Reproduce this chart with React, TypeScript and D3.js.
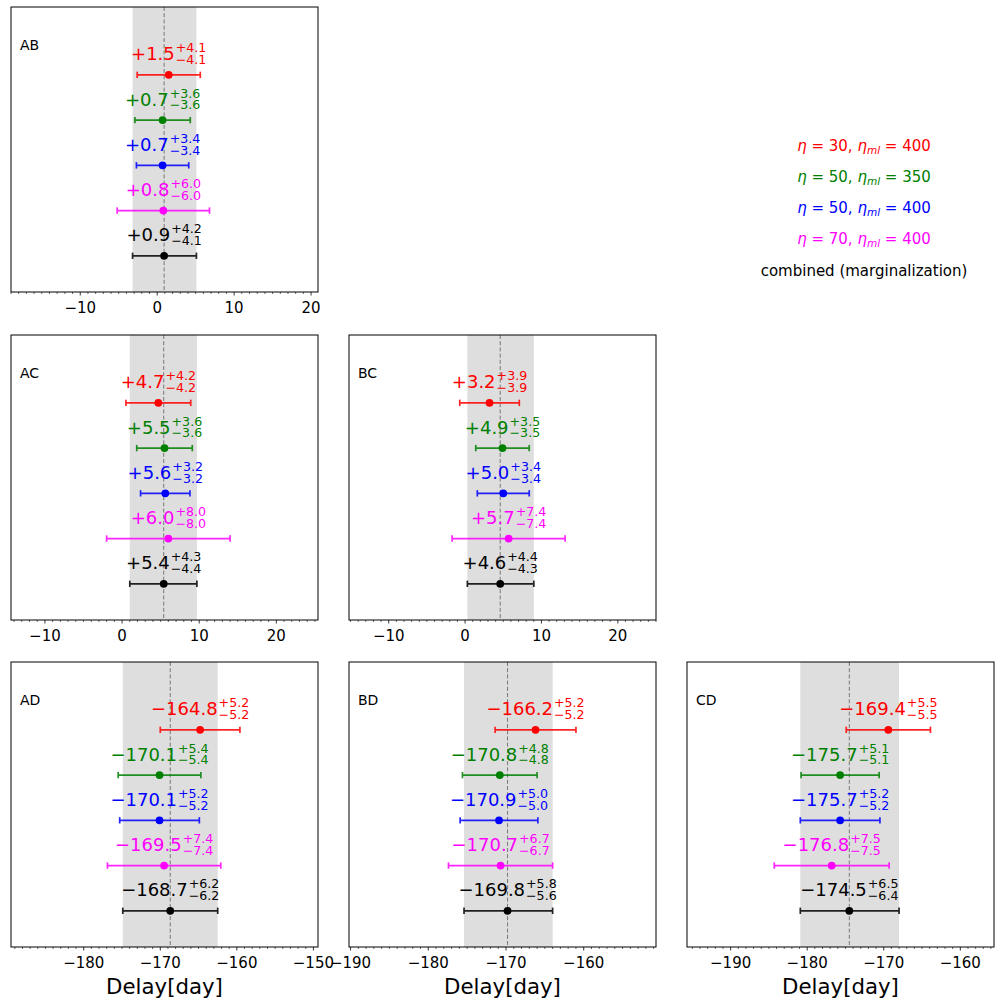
import React, { useEffect, useRef } from 'react'
import * as d3 from 'd3'

// panels in the lower triangle of the grid
const panelNames = ['AB', 'AC', 'BC', 'AD', 'BD', 'CD']
const panelRow = [0, 1, 1, 2, 2, 2]
const panelCol = [0, 0, 1, 0, 1, 2]
const xLimits: [number, number][] = [
  [-19.0, 20.9],
  [-14.4, 25.4],
  [-15.2, 25.0],
  [-189.5, -149.4],
  [-190.2, -150.7],
  [-195.7, -155.6],
]
const xTicks = [
  [-10, 0, 10, 20],
  [-10, 0, 10, 20],
  [-10, 0, 10, 20],
  [-180, -170, -160, -150],
  [-190, -180, -170, -160],
  [-190, -180, -170, -160],
]

// runs: red, green, blue, magenta, combined
const runColors = ['#ff0000', '#008000', '#0000ff', '#ff00ff', '#000000']
const runEta = ['30', '50', '50', '70']
const runEtaMl = ['400', '350', '400', '400']
const combinedLabel = 'combined (marginalization)'

const delays = [
  [1.5, 0.7, 0.7, 0.8, 0.9],
  [4.7, 5.5, 5.6, 6.0, 5.4],
  [3.2, 4.9, 5.0, 5.7, 4.6],
  [-164.8, -170.1, -170.1, -169.5, -168.7],
  [-166.2, -170.8, -170.9, -170.7, -169.8],
  [-169.4, -175.7, -175.7, -176.8, -174.5],
]
const errPlus = [
  [4.1, 3.6, 3.4, 6.0, 4.2],
  [4.2, 3.6, 3.2, 8.0, 4.3],
  [3.9, 3.5, 3.4, 7.4, 4.4],
  [5.2, 5.4, 5.2, 7.4, 6.2],
  [5.2, 4.8, 5.0, 6.7, 5.8],
  [5.5, 5.1, 5.2, 7.5, 6.5],
]
const errMinus = [
  [4.1, 3.6, 3.4, 6.0, 4.1],
  [4.2, 3.6, 3.2, 8.0, 4.4],
  [3.9, 3.5, 3.4, 7.4, 4.3],
  [5.2, 5.4, 5.2, 7.4, 6.2],
  [5.2, 4.8, 5.0, 6.7, 5.6],
  [5.5, 5.1, 5.2, 7.5, 6.4],
]

const W = 1000
const H = 1007
const COL_X = [11, 349, 687]
const ROW_Y = [7, 335, 662]
const PW = 307
const PH = 285
const FONT = 'DejaVu Sans, sans-serif'

const fmt = (v: number) => (v < 0 ? '\u2212' : '+') + Math.abs(v).toFixed(1)

export default function App() {
  const ref = useRef<SVGSVGElement>(null)

  useEffect(() => {
    const svg = d3.select(ref.current)
    svg.selectAll('*').remove()
    svg.append('rect').attr('width', W).attr('height', H).attr('fill', 'white')

    panelNames.forEach((name, p) => {
      const g = svg.append('g')
        .attr('transform', `translate(${COL_X[panelCol[p]]},${ROW_Y[panelRow[p]]})`)

      const x = d3.scaleLinear().domain(xLimits[p]).range([0, PW])
      const y = d3.scaleLinear().domain([0.2, 6.5]).range([PH, 0])

      const vals = delays[p]
      const comb = vals.length - 1
      const lo = vals[comb] - errMinus[p][comb]
      const hi = vals[comb] + errPlus[p][comb]

      // band of the combined estimate
      g.append('rect')
        .attr('x', x(lo)).attr('y', 0)
        .attr('width', x(hi) - x(lo)).attr('height', PH)
        .attr('fill', '#dedede')
      g.append('line')
        .attr('x1', x(vals[comb])).attr('x2', x(vals[comb]))
        .attr('y1', 0).attr('y2', PH)
        .attr('stroke', '#777').attr('stroke-width', 1)
        .attr('stroke-dasharray', '4,2.2')

      vals.forEach((v, i) => {
        const cy = y(5 - i)
        const col = runColors[i]
        const x0 = x(v - errMinus[p][i])
        const x1 = x(v + errPlus[p][i])
        const eb = g.append('g').attr('stroke', col).attr('stroke-width', 1.7).attr('opacity', 0.85)
        eb.append('line').attr('x1', x0).attr('x2', x1).attr('y1', cy).attr('y2', cy)
        eb.append('line').attr('x1', x0).attr('x2', x0).attr('y1', cy - 3.2).attr('y2', cy + 3.2)
        eb.append('line').attr('x1', x1).attr('x2', x1).attr('y1', cy - 3.2).attr('y2', cy + 3.2)
        g.append('circle').attr('cx', x(v)).attr('cy', cy).attr('r', 3.9).attr('fill', col)

        // label: value with stacked +/- errors
        const lab = g.append('g').attr('fill', col).attr('font-family', FONT)
        const main = lab.append('text').attr('x', 0).attr('y', 0)
          .attr('font-size', 18).text(fmt(v))
        const mw = (main.node() as SVGTextElement).getComputedTextLength()
        const sup = lab.append('text').attr('x', mw + 1).attr('y', -8)
          .attr('font-size', 12.6).text(fmt(errPlus[p][i]))
        const sub = lab.append('text').attr('x', mw + 1).attr('y', 3.8)
          .attr('font-size', 12.6).text(fmt(-errMinus[p][i]))
        const sw = Math.max(
          (sup.node() as SVGTextElement).getComputedTextLength(),
          (sub.node() as SVGTextElement).getComputedTextLength(),
        )
        const tw = mw + 1 + sw
        lab.attr('transform', `translate(${x(v) - tw / 2},${cy - 14.5})`)
      })

      g.append('text')
        .attr('x', 9).attr('y', 43)
        .attr('font-family', FONT).attr('font-size', 14)
        .text(name)

      // bottom axis, minor ticks every day
      const minor = d3.range(Math.ceil(xLimits[p][0]), Math.floor(xLimits[p][1]) + 1)
        .filter((t) => t % 10 !== 0)
      const axis = g.append('g').attr('transform', `translate(0,${PH})`)
      axis.selectAll('line.minor').data(minor).enter().append('line')
        .attr('class', 'minor')
        .attr('x1', (d) => x(d)).attr('x2', (d) => x(d))
        .attr('y1', 0).attr('y2', 2)
        .attr('stroke', 'black').attr('stroke-width', 0.6)
      axis.selectAll('line.major').data(xTicks[p]).enter().append('line')
        .attr('class', 'major')
        .attr('x1', (d) => x(d)).attr('x2', (d) => x(d))
        .attr('y1', 0).attr('y2', 3.5)
        .attr('stroke', 'black').attr('stroke-width', 0.8)
      axis.selectAll('text').data(xTicks[p]).enter().append('text')
        .attr('x', (d) => x(d)).attr('y', 20.7)
        .attr('text-anchor', 'middle')
        .attr('font-family', FONT).attr('font-size', 15)
        .text((d) => (d < 0 ? '\u2212' : '') + Math.abs(d))

      g.append('rect')
        .attr('width', PW).attr('height', PH)
        .attr('fill', 'none').attr('stroke', 'black').attr('stroke-width', 1)

      if (panelRow[p] === 2) {
        g.append('text')
          .attr('x', PW / 2).attr('y', PH + 47)
          .attr('text-anchor', 'middle')
          .attr('font-family', FONT).attr('font-size', 21.3)
          .text('Delay[day]')
      }
    })

    // legend in the empty top-right cell
    const leg = svg.append('g').attr('font-family', FONT).attr('font-size', 15)
    runEta.forEach((eta, i) => {
      const t = leg.append('text')
        .attr('x', 864).attr('y', 150.7 + i * 31.2)
        .attr('text-anchor', 'middle').attr('fill', runColors[i])
      t.append('tspan').attr('font-style', 'italic').text('\u03b7')
      t.append('tspan').text(` = ${eta}, `)
      t.append('tspan').attr('font-style', 'italic').text('\u03b7')
      t.append('tspan').attr('font-style', 'italic').attr('font-size', 10.5).attr('dy', 3).text('ml')
      t.append('tspan').attr('dy', -3).text(` = ${runEtaMl[i]}`)
    })
    leg.append('text')
      .attr('x', 864).attr('y', 275.5)
      .attr('text-anchor', 'middle').attr('fill', runColors[4])
      .text(combinedLabel)
  }, [])

  return (
    <svg ref={ref} width={W} height={H}
      style={{ position: 'absolute', left: 0, top: 0, display: 'block' }} />
  )
}
